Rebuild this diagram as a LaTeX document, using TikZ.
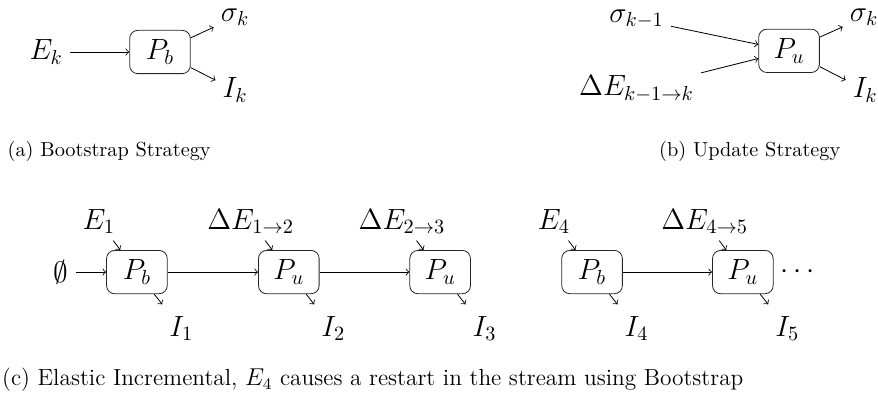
\documentclass[tikz,border=0pt]{standalone}
\usetikzlibrary{positioning}

\begin{document}
\begin{tikzpicture}[
    proc/.style={rectangle, draw=black!85, rounded corners=4pt, minimum width=1.05cm, minimum height=0.75cm, inner sep=0pt, font=\Large},
    lbl/.style={font=\Large},
    outlbl/.style={font=\Large, inner ysep=7.5pt},
    arrow/.style={->},
    caption/.style={font=\normalsize}
]
    \useasboundingbox (0,0) rectangle (15.2,-6.92);

    % --- Bootstrap ---
    \begin{scope}
        % Input
        \node[lbl] (ek) at (0.80, -0.90) {$E_k$};
        % Process
        \node[proc] (pb) at (2.77, -0.90) {$P_b$};
        % Outputs
        \node[lbl] (sk) at (4.07, -0.30) {$\sigma_k$};
        \node[lbl] (ik) at (4.07, -1.56) {$I_k$};

        \draw[arrow] (ek) -- (pb);
        \draw[arrow] (pb) -- (sk);
        \draw[arrow] (pb) -- (ik);

        \node[caption] (capa) at (1.89, -2.63) {(a) Bootstrap Strategy};
    \end{scope}

    % --- Update ---
    \begin{scope}
        % Inputs
        \node[lbl] (sprev) at (11.02, -0.33) {$\sigma_{k-1}$};
        \node[lbl] (de) at (11.02, -1.54) {$\Delta E_{k-1\rightarrow k}$};
        % Process
        \node[proc] (pu) at (13.66, -0.88) {$P_u$};
        % Outputs
        \node[lbl] (sk2) at (14.96, -0.30) {$\sigma_k$};
        \node[lbl] (ik2) at (14.98, -1.56) {$I_k$};

        \draw[arrow] (sprev) -- (pu);
        \draw[arrow] (de) -- (pu);
        \draw[arrow] (pu) -- (sk2);
        \draw[arrow] (pu) -- (ik2);

        \node[caption] (capb) at (12.98, -2.63) {(b) Update Strategy};
    \end{scope}

    % --- Elastic Incremental ---
    \begin{scope}
        % Processes
        \node[lbl] (empty) at (1.06, -4.71) {$\emptyset$};
        \node[proc] (c1) at (2.37, -4.71) {$P_b$};
        \node[proc] (c2) at (5.00, -4.71) {$P_u$};
        \node[proc] (c3) at (7.62, -4.71) {$P_u$};
        \node[proc] (c4) at (10.25, -4.71) {$P_b$};
        \node[proc] (c5) at (12.86, -4.71) {$P_u$};
        \node[lbl, right=0pt of c5] (dots) {$\cdots$};
        % Inputs
        \node[lbl] (e1) at (1.71, -3.83) {$E_1$};
        \node[lbl] (de12) at (4.34, -3.83) {$\Delta E_{1\rightarrow 2}$};
        \node[lbl] (de23) at (6.96, -3.83) {$\Delta E_{2\rightarrow 3}$};
        \node[lbl] (e4) at (9.59, -3.83) {$E_4$};
        \node[lbl] (de45) at (12.20, -3.83) {$\Delta E_{4\rightarrow 5}$};
        % Outputs
        \node[outlbl] (i1) at (3.14, -5.69) {$I_1$};
        \node[outlbl] (i2) at (5.77, -5.69) {$I_2$};
        \node[outlbl] (i3) at (8.39, -5.69) {$I_3$};
        \node[outlbl] (i4) at (11.02, -5.69) {$I_4$};
        \node[outlbl] (i5) at (13.63, -5.69) {$I_5$};

        \draw[arrow] (empty) -- (c1);
        \draw[arrow] (c1) -- (c2);
        \draw[arrow] (c2) -- (c3);
        \draw[arrow] (c4) -- (c5);

        \draw[arrow] (e1) -- (c1);
        \draw[arrow] (de12) -- (c2);
        \draw[arrow] (de23) -- (c3);
        \draw[arrow] (e4) -- (c4);
        \draw[arrow] (de45) -- (c5);

        \draw[arrow] (c1) -- (i1);
        \draw[arrow] (c2) -- (i2);
        \draw[arrow] (c3) -- (i3);
        \draw[arrow] (c4) -- (i4);
        \draw[arrow] (c5) -- (i5);

        \node[caption, font=\fontsize{11.5}{14}\selectfont, anchor=west, inner sep=0pt] (capc) at (0.03, -6.58) {(c) Elastic Incremental, $E_4$ causes a restart in the stream using Bootstrap};
    \end{scope}

\end{tikzpicture}
\end{document}
